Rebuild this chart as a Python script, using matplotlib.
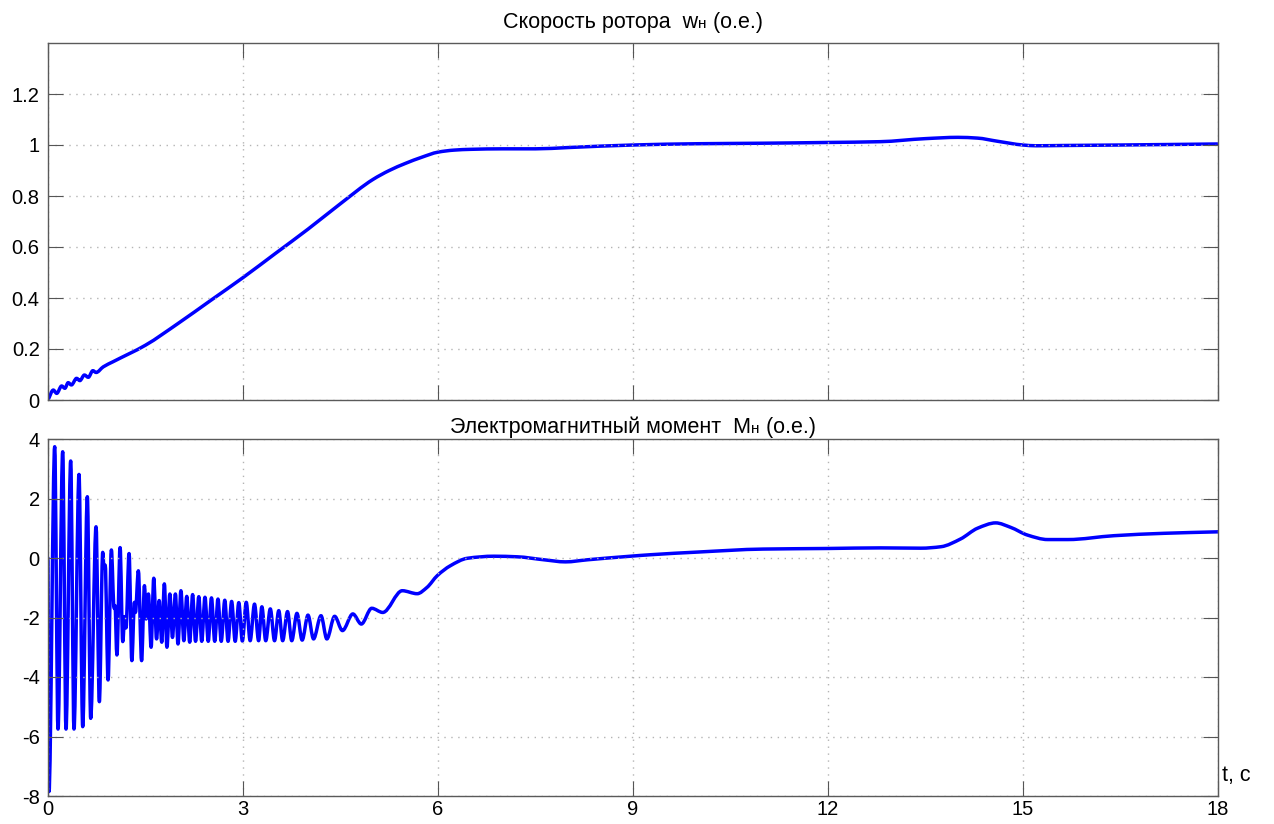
import matplotlib
matplotlib.use("Agg")
import matplotlib.pyplot as plt
import matplotlib.transforms as mtransforms
from matplotlib.path import Path
from matplotlib.patches import PathPatch

plt.rcParams['font.family'] = ['Liberation Sans', 'DejaVu Sans']
plt.rcParams['axes.unicode_minus'] = False

# скорость ротора (о.е.)
t_speed = [0.0, 0.082, 0.134, 0.21, 0.26, 0.31, 0.36, 0.44, 0.49, 0.56, 0.62, 0.69, 0.74, 0.85,
           1.0, 1.5, 2.0, 2.5, 3.0, 3.5, 4.0, 4.5, 5.0, 5.25, 5.5, 5.75, 6.0, 6.25, 6.5, 7.0, 7.5,
           8.0, 9.0, 10.0, 11.0, 12.0, 12.8, 13.5, 14.0, 14.3, 14.6, 15.0, 15.2, 15.6, 16.5, 18.0]
w_speed = [0.0, 0.039, 0.026, 0.055, 0.046, 0.068, 0.059, 0.085, 0.076, 0.098, 0.089, 0.115, 0.108, 0.13,
           0.15, 0.215, 0.30, 0.39, 0.48, 0.575, 0.67, 0.77, 0.865, 0.90, 0.928, 0.952, 0.972, 0.98, 0.983,
           0.985, 0.985, 0.99, 1.0, 1.005, 1.007, 1.01, 1.013, 1.025, 1.03, 1.027, 1.015, 1.0, 0.997,
           0.998, 1.0, 1.004]

# электромагнитный момент (о.е.)
t_torque = [0.0, 0.015, 0.103, 0.154, 0.226, 0.277, 0.349, 0.40, 0.477, 0.534, 0.605, 0.657,
            0.739, 0.79, 0.842, 0.862, 0.88, 0.924, 0.975, 1.016, 1.03, 1.06, 1.109, 1.15, 1.18,
            1.2, 1.247, 1.29, 1.33, 1.345, 1.39, 1.44, 1.484, 1.51, 1.545, 1.586, 1.627, 1.67,
            1.71, 1.75, 1.79, 1.83, 1.875, 1.915, 1.96, 2.0, 2.045, 2.09, 2.135, 2.18, 2.225,
            2.27, 2.32, 2.365, 2.415, 2.465, 2.515, 2.565, 2.615, 2.665, 2.72, 2.77, 2.825,
            2.88, 2.935, 2.99, 3.05, 3.11, 3.177, 3.24, 3.29, 3.35, 3.42, 3.485, 3.55, 3.61,
            3.685, 3.75, 3.83, 3.91, 4.0, 4.085, 4.2, 4.29, 4.41, 4.53, 4.69, 4.82, 4.98,
            5.15, 5.45, 5.68, 5.83, 5.99, 6.19, 6.45, 6.86, 7.22, 7.63, 7.96, 8.3,
            8.96, 9.27, 10.0, 11.0, 12.0, 12.81, 13.43, 13.74, 14.04, 14.3, 14.58, 14.81,
            15.07, 15.38, 15.69, 16.4, 17.17, 18.0]
m_torque = [0.0, -7.85, 3.74, -5.75, 3.57, -5.75, 3.26, -5.75, 2.81, -5.67, 2.06, -5.39,
            1.05, -4.83, 0.19, -0.34, -0.24, -4.1, 0.27, -1.68, -1.6, -3.26, 0.35, -2.81, -1.97,
            -2.35, 0.15, -3.45, -1.49, -1.83, -0.43, -3.45, -0.93, -2.05, -1.21, -3.0, -0.68, -2.72,
            -1.43, -2.83, -0.87, -3.0, -1.21, -2.67, -1.21, -2.89, -1.1, -2.78, -1.29, -2.83, -1.23,
            -2.8, -1.3, -2.8, -1.32, -2.8, -1.34, -2.8, -1.38, -2.8, -1.42, -2.8, -1.46,
            -2.8, -1.5, -2.79, -1.49, -2.78, -1.55, -2.78, -1.64, -2.78, -1.71, -2.78, -1.77, -2.78,
            -1.8, -2.78, -1.86, -2.76, -1.92, -2.72, -1.94, -2.72, -1.96, -2.44, -1.88, -2.22, -1.69,
            -1.83, -1.1, -1.2, -0.99, -0.59, -0.26, -0.01, 0.06, 0.04, -0.06, -0.13, -0.06,
            0.06, 0.11, 0.2, 0.3, 0.32, 0.34, 0.33, 0.38, 0.64, 1.0, 1.18, 1.03,
            0.77, 0.62, 0.62, 0.75, 0.83, 0.88]

x_ticks = [0, 3, 6, 9, 12, 15, 18]
speed_ticks = [0, 0.2, 0.4, 0.6, 0.8, 1, 1.2]
torque_ticks = [-8, -6, -4, -2, 0, 2, 4]


def smooth_line(ax, x, y, **kw):
    # гладкая кривая через точки (монотонный кубический сплайн Эрмита -> кривые Безье)
    n = len(x)
    h = [x[i + 1] - x[i] for i in range(n - 1)]
    d = [(y[i + 1] - y[i]) / h[i] for i in range(n - 1)]
    m = [0.0] * n
    m[0], m[-1] = d[0], d[-1]
    for k in range(1, n - 1):
        if d[k - 1] * d[k] <= 0:
            m[k] = 0.0
        else:
            w1 = 2 * h[k] + h[k - 1]
            w2 = h[k] + 2 * h[k - 1]
            m[k] = (w1 + w2) / (w1 / d[k - 1] + w2 / d[k])
    verts = [(x[0], y[0])]
    codes = [Path.MOVETO]
    for i in range(n - 1):
        verts.append((x[i] + h[i] / 3, y[i] + m[i] * h[i] / 3))
        verts.append((x[i + 1] - h[i] / 3, y[i + 1] - m[i + 1] * h[i] / 3))
        verts.append((x[i + 1], y[i + 1]))
        codes += [Path.CURVE4] * 3
    patch = PathPatch(Path(verts, codes), fill=False, transform=ax.transData,
                      capstyle='round', joinstyle='round', **kw)
    ax.add_patch(patch)


W, H = 1274, 824
fig = plt.figure(figsize=(W / 100, H / 100), dpi=100)
ax1 = fig.add_axes([48 / W, 1 - 400 / H, 1170 / W, 357 / H])
ax2 = fig.add_axes([48 / W, 1 - 796 / H, 1170 / W, 357 / H])

for ax in (ax1, ax2):
    ax.set_xlim(0, 18)
    ax.set_xticks(x_ticks)
    ax.grid(True, color='#b4b4b4', linestyle=(0, (1, 4)), linewidth=1.0)
    ax.tick_params(direction='in', length=11, width=0.8, color='#555555',
                   top=True, right=True, labelsize=14.5, pad=6)
    for sp in ax.spines.values():
        sp.set_color('#5a5a5a')
        sp.set_linewidth(1.0)

smooth_line(ax1, t_speed, w_speed, edgecolor='#0000ff', linewidth=2.5)
ax1.set_ylim(0, 1.4)
ax1.set_yticks(speed_ticks)
ax1.set_yticklabels(['0', '0.2', '0.4', '0.6', '0.8', '1', '1.2'])
ax1.tick_params(labelbottom=False)

smooth_line(ax2, t_torque, m_torque, edgecolor='#0000ff', linewidth=2.5)
ax2.set_ylim(-8, 4)
ax2.set_yticks(torque_ticks)
ax2.tick_params(axis='x', pad=3)

fig.text(1222 / W, 1 - 781 / H, 't, c', fontsize=15.5, ha='left', va='baseline')


def rich_title(parts, cx, base_y):
    # собираем заголовок из кусков с уменьшенным индексом "н"
    r = fig.canvas.get_renderer()
    pix = mtransforms.IdentityTransform()
    items = []
    for s, fs in parts:
        t = fig.text(0, 0, s, fontsize=fs, ha='left', va='baseline', transform=pix)
        items.append(t)
    widths = [t.get_window_extent(renderer=r).width for t in items]
    x = cx - sum(widths) / 2
    for t, w in zip(items, widths):
        t.set_position((x, H - base_y))
        x += w


rich_title([('Скорость ротора  w', 15.5), ('н', 11), (' (о.е.)', 15.5)], 633, 28)
rich_title([('Электромагнитный момент  M', 15.5), ('н', 11), (' (о.е.)', 15.5)], 633, 433)

fig.savefig('out.png', dpi=100)
